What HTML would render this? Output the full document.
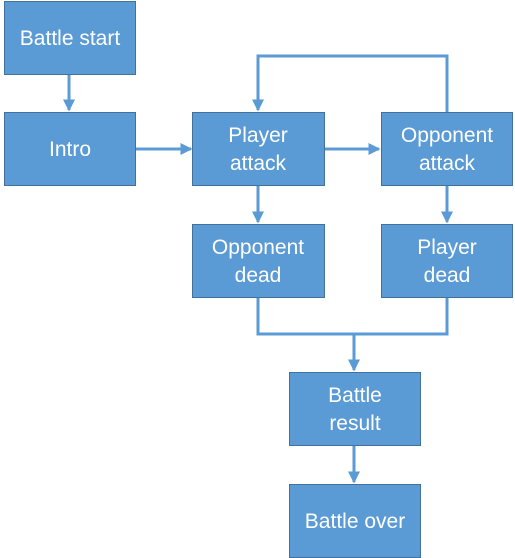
<!DOCTYPE html>
<html><head><style>body{margin:0;background:#fff}svg{display:block}text{font-family:"Liberation Sans",sans-serif;font-size:21px;fill:#fff;text-anchor:middle}</style></head><body>
<svg width="515" height="558" viewBox="0 0 515 558">
<defs><marker id="a" markerWidth="4" markerHeight="4" refX="3.5" refY="2" orient="auto" markerUnits="strokeWidth"><path d="M0,0L4,2L0,4z" fill="#5b9bd5"/></marker></defs>
<g stroke="#5b9bd5" stroke-width="3" fill="none">
<path d="M69,74V110" marker-end="url(#a)"/>
<path d="M135,149H191" marker-end="url(#a)"/>
<path d="M324,149H379" marker-end="url(#a)"/>
<path d="M447,112V56H258V110" marker-end="url(#a)"/>
<path d="M258,186V222" marker-end="url(#a)"/>
<path d="M447,186V222" marker-end="url(#a)"/>
<path d="M258,297V334H447V297M354,334V370" marker-end="url(#a)"/>
<path d="M354,446V482" marker-end="url(#a)"/>
</g>
<g fill="#5b9bd5" stroke="#41719c" stroke-width="1">
<rect x="4.5" y="1.5" width="131" height="73"/>
<rect x="4.5" y="112.5" width="131" height="73"/>
<rect x="192.5" y="112.5" width="132" height="73"/>
<rect x="381.5" y="112.5" width="131" height="73"/>
<rect x="192.5" y="224.5" width="132" height="73"/>
<rect x="381.5" y="224.5" width="131" height="73"/>
<rect x="289.5" y="372.5" width="131" height="73"/>
<rect x="289.5" y="484.5" width="131" height="73"/>
</g>
<text x="70" y="45">Battle start</text>
<text x="70" y="156">Intro</text>
<text x="258" y="142">Player</text><text x="258" y="170">attack</text>
<text x="447" y="142">Opponent</text><text x="447" y="170">attack</text>
<text x="258" y="254">Opponent</text><text x="258" y="282">dead</text>
<text x="447" y="254">Player</text><text x="447" y="282">dead</text>
<text x="355" y="402">Battle</text><text x="355" y="430">result</text>
<text x="355" y="528">Battle over</text>
</svg>
</body></html>
